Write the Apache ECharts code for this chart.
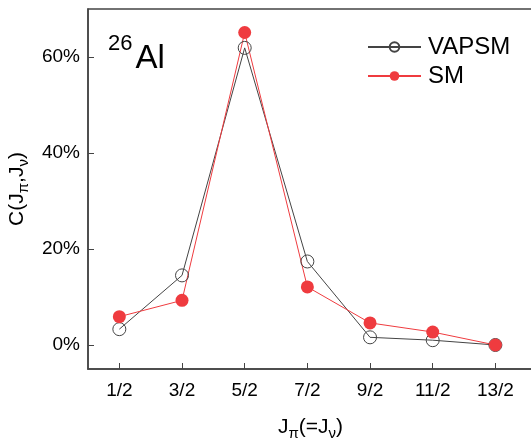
<!DOCTYPE html>
<html>
<head>
<meta charset="utf-8">
<script src="https://cdn.jsdelivr.net/npm/echarts@6/dist/echarts.min.js"></script>
<style>
  html, body { margin: 0; background: #fff; }
  #chart { width: 531px; height: 440px; }
</style>
</head>
<body>
<div id="chart"></div>
<script>
const categories = ['1/2', '3/2', '5/2', '7/2', '9/2', '11/2', '13/2']
const vapsm = [3.3, 14.5, 61.9, 17.4, 1.6, 1.0, 0]
const sm = [5.9, 9.3, 65.1, 12.1, 4.6, 2.7, 0]
const yTicks = [0, 20, 40, 60]
const xTicks = categories.map((c, i) => i + 1)

const font = 'Liberation Sans, Arial, sans-serif'
const axisColor = '#444'
const red = '#EF3B3F'

const toPairs = arr => arr.map((v, i) => [i + 1, v])

// rich style for the subscripts in the axis names
const nameStyle = {
  fontSize: 21, fontFamily: font, color: '#000', lineHeight: 28,
  rich: { s: { fontSize: 15, fontFamily: font, color: '#000', verticalAlign: 'bottom', lineHeight: 16 } }
}

const chart = echarts.init(document.getElementById('chart'))
chart.setOption({
  animation: false,
  title: {
    text: '{sup|26}{big|Al}',
    left: 108,
    top: 33,
    padding: 0,
    textStyle: {
      rich: {
        sup: { fontSize: 22, fontFamily: font, fontWeight: 'normal', color: '#000', verticalAlign: 'top', lineHeight: 22, padding: [0, 3, 0, 0] },
        big: { fontSize: 33, fontFamily: font, fontWeight: 'normal', color: '#000', lineHeight: 52 }
      }
    }
  },
  legend: {
    orient: 'vertical',
    left: 362,
    top: 28,
    itemWidth: 53,
    itemHeight: 12,
    itemGap: 1,
    textStyle: { fontSize: 24, fontFamily: font, color: '#000', lineHeight: 28, padding: [0, 0, 0, 2] },
    data: ['VAPSM', 'SM']
  },
  grid: {
    left: 88,
    top: 9,
    width: 445,
    height: 360,
    outerBoundsMode: 'none',
    show: true,
    borderColor: axisColor,
    borderWidth: 1.5
  },
  xAxis: {
    type: 'value',
    min: 0.5,
    max: 7.6,
    name: 'J{s|π}(=J{s|ν})',
    nameLocation: 'middle',
    nameGap: 44,
    nameTextStyle: nameStyle,
    axisLine: { onZero: false, lineStyle: { color: axisColor, width: 1.5 } },
    axisTick: { inside: true, length: 6, customValues: xTicks, lineStyle: { color: axisColor } },
    axisLabel: {
      customValues: xTicks,
      formatter: v => categories[Math.round(v) - 1],
      fontSize: 19, fontFamily: font, color: '#000', margin: 12
    },
    splitLine: { show: false }
  },
  yAxis: {
    type: 'value',
    min: -5,
    max: 70,
    name: 'C(J{s|π},J{s|ν})',
    nameLocation: 'middle',
    nameGap: 55,
    nameTextStyle: nameStyle,
    axisLine: { show: true, lineStyle: { color: axisColor, width: 1.5 } },
    axisTick: { show: true, inside: true, length: 6, customValues: yTicks, lineStyle: { color: axisColor } },
    axisLabel: {
      customValues: yTicks,
      formatter: v => v + '%',
      fontSize: 19, fontFamily: font, color: '#000', margin: 8
    },
    splitLine: { show: false }
  },
  series: [
    {
      name: 'VAPSM',
      type: 'line',
      data: toPairs(vapsm),
      symbol: 'circle',
      symbolSize: 13,
      itemStyle: { color: 'rgba(255,255,255,0)', borderColor: '#444', borderWidth: 1 },
      lineStyle: { color: '#444', width: 1 }
    },
    {
      name: 'SM',
      type: 'line',
      data: toPairs(sm),
      symbol: 'circle',
      symbolSize: 13,
      itemStyle: { color: red },
      lineStyle: { color: red, width: 1 }
    }
  ]
})
</script>
</body>
</html>
